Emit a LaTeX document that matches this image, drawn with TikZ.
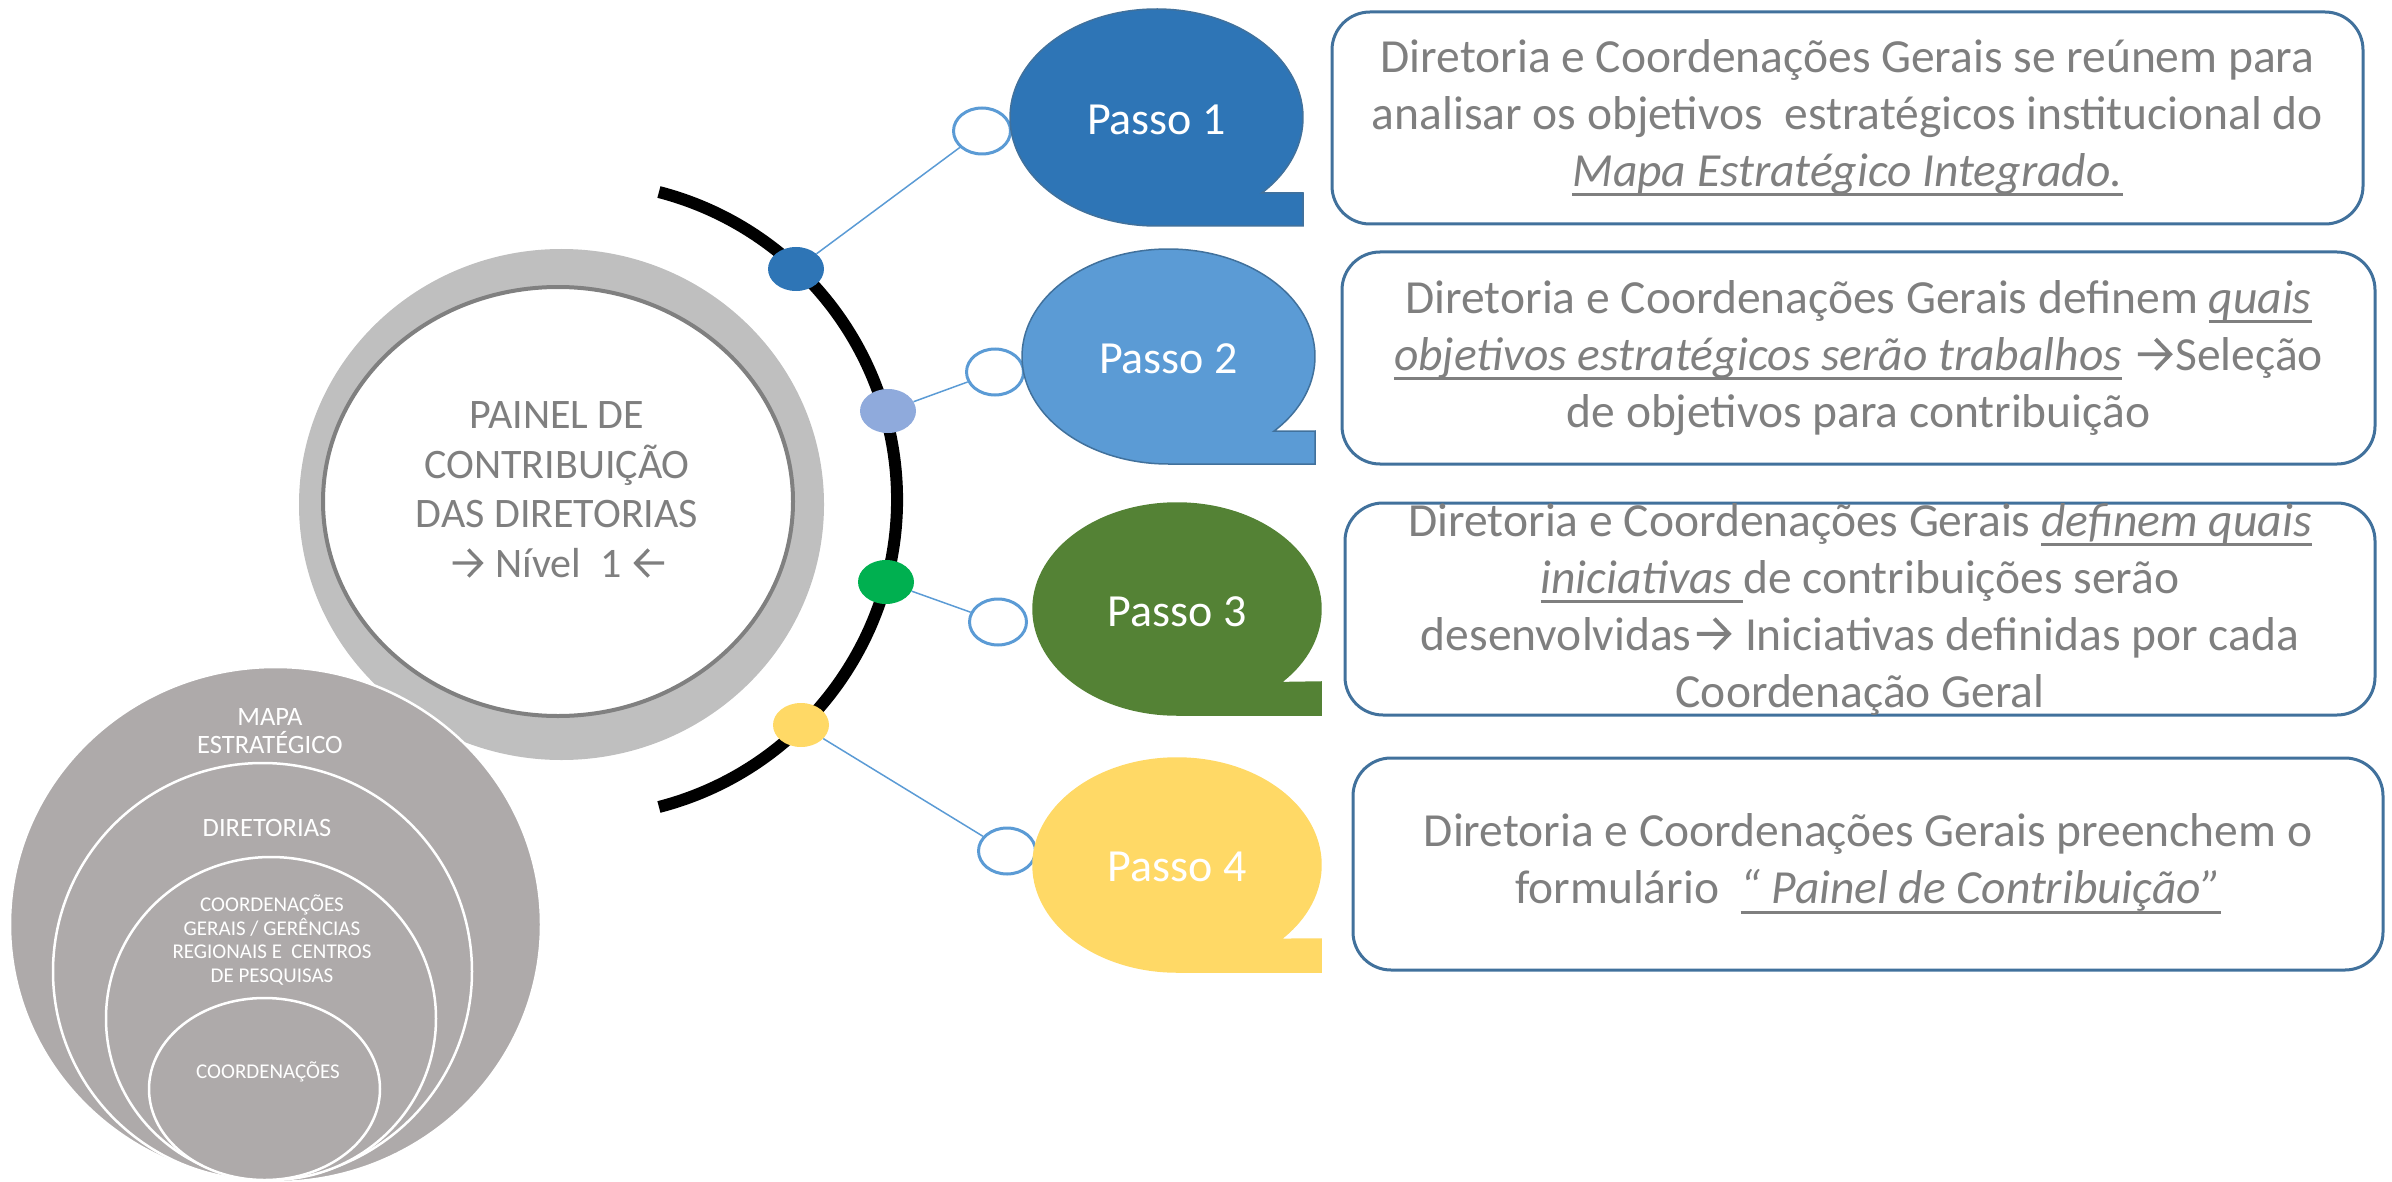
\documentclass[tikz,border=0pt]{standalone}
\usepackage{fontspec}
\setmainfont{Carlito}
\usetikzlibrary{shapes.geometric}
\definecolor{txtgray}{HTML}{7F7F7F}
\definecolor{boxblue}{HTML}{41719C}
\definecolor{linkblue}{HTML}{5B9BD5}
\definecolor{pone}{HTML}{2E75B6}
\definecolor{ptwo}{HTML}{5B9BD5}
\definecolor{pthree}{HTML}{548235}
\definecolor{pfour}{HTML}{FFD966}
\definecolor{dtwo}{HTML}{8FAADC}
\definecolor{dthree}{HTML}{00B050}
\definecolor{mapagray}{HTML}{AEAAAA}
\definecolor{ringgray}{HTML}{BFBFBF}
\definecolor{ringline}{HTML}{808080}
\newsavebox\ulbox
\newcommand\myul[1]{\sbox\ulbox{#1}\rlap{\rule[-10pt]{\wd\ulbox}{3pt}}\usebox\ulbox}
\newcommand\rarr{\hspace{0.07em}\tikz[x=1em,y=1em,baseline=0pt,sharp corners]\draw[draw=txtgray,line width=0.08em,line join=miter,sharp corners]
  (0,0.34)--(0.68,0.34) (0.37,0.66)--(0.68,0.34)--(0.37,0.02);\hspace{0.07em}}
\newcommand\larr{\hspace{0.07em}\tikz[x=1em,y=1em,baseline=0pt,sharp corners]\draw[draw=txtgray,line width=0.08em,line join=miter,sharp corners]
  (0.68,0.34)--(0,0.34) (0.31,0.66)--(0,0.34)--(0.31,0.02);\hspace{0.07em}}
\newcommand\passobubble[6]{%
  \filldraw[fill=#5, draw=#6, line width=1.5] (#1,#2) ++(44:#3 and #4)
    arc[start angle=44, end angle=-270, x radius=#3, y radius=#4]
    -- ++(#3,0) -- ++(0,-33) -- cycle;}
\begin{document}
\begin{tikzpicture}[x=1pt, y=-1pt,
  boxst/.style={draw=boxblue, line width=3, rounded corners=38, fill=white, text=txtgray,
    align=center, font=\fontsize{47.5}{57}\selectfont, inner sep=0},
  dotst/.style={ellipse, minimum width=56, minimum height=44, inner sep=0},
  smallc/.style={ellipse, draw=linkblue, line width=3, fill=white, minimum width=57, minimum height=46, inner sep=0},
  conn/.style={draw=linkblue, line width=1.5},
  passo/.style={text=white, font=\fontsize{46}{55}\selectfont, inner sep=0},
  mapac/.style={ellipse, fill=mapagray, draw=white, line width=2.5, inner sep=0},
  mapatxt/.style={text=white, align=center, inner sep=0}]
\useasboundingbox (0,0) rectangle (2392,1182);

% central ring
\node[ellipse, fill=ringgray, minimum width=525, minimum height=511, inner sep=0] (ringout) at (561.5,504.5) {};
\node[ellipse, fill=white, draw=ringline, line width=4, minimum width=470, minimum height=429, inner sep=0] (ringin) at (558,501.5) {};
\node[text=txtgray, align=center, inner sep=0, font=\fontsize{42}{49.5}\selectfont] (painel) at (557,490)
  {PAINEL DE\\CONTRIBUIÇÃO\\DAS DIRETORIAS\\\rarr{} Nível~ 1 \larr};

% nested circles
\node[mapac, minimum width=531, minimum height=515] (m1) at (275.5,924.5) {};
\node[mapac, minimum width=419, minimum height=417] (m2) at (262.5,971.5) {};
\node[mapac, minimum width=330, minimum height=323] (m3) at (271,1018.5) {};
\node[mapac, minimum width=231, minimum height=182] (m4) at (264.5,1089) {};
\node[mapatxt, font=\fontsize{26.5}{28.5}\selectfont] (t1) at (270,731) {MAPA\\ESTRATÉGICO};
\node[mapatxt, font=\fontsize{26.5}{28.5}\selectfont] (t2) at (267,828) {DIRETORIAS};
\node[mapatxt, font=\fontsize{21}{23.5}\selectfont] (t3) at (272,940) {COORDENAÇÕES\\GERAIS / GERÊNCIAS\\REGIONAIS E~ CENTROS\\DE PESQUISAS};
\node[mapatxt, font=\fontsize{21}{23.5}\selectfont] (t4) at (268,1072) {COORDENAÇÕES};

% black arc
\draw[line width=12] (579.4,499.5) ++(75.5:317.6) arc[start angle=75.5, end angle=-75.5, radius=317.6];

% small circles and connectors
\node[smallc] (c1) at (982,131) {};
\node[smallc] (c2) at (995,372) {};
\node[smallc] (c3) at (998,622) {};
\node[smallc] (c4) at (1007,851) {};
\node[dotst, fill=pone] (d1) at (796,269) {};
\node[dotst, fill=dtwo] (d2) at (888,411) {};
\node[dotst, fill=dthree] (d3) at (886,582) {};
\node[dotst, fill=pfour] (d4) at (801,725) {};
\draw[conn] (d1) -- (c1);
\draw[conn] (d2) -- (c2);
\draw[conn] (d3) -- (c3);
\draw[conn] (d4) -- (c4);

% bubbles
\passobubble{1156.5}{117.5}{146.5}{108.5}{pone}{boxblue}
\passobubble{1168.5}{356.5}{146.5}{107.5}{ptwo}{boxblue}
\passobubble{1177}{609}{144}{106}{pthree}{pthree}
\passobubble{1177}{865}{144}{107}{pfour}{pfour}
\node[passo] (p1) at (1156.5,120) {Passo 1};
\node[passo] (p2) at (1168.5,359) {Passo 2};
\node[passo] (p3) at (1177,612) {Passo 3};
\node[passo] (p4) at (1177,867) {Passo 4};

% text boxes
\node[boxst, minimum width=1031, minimum height=212] (b1) at (1847.5,118)
  {Diretoria e Coordenações Gerais se reúnem para\\analisar os objetivos~ estratégicos institucional do\\\myul{\itshape Mapa Estratégico Integrado.}};
\node[boxst, minimum width=1033, minimum height=212] (b2) at (1858.5,358)
  {Diretoria e Coordenações Gerais definem \myul{\itshape quais}\\\myul{\itshape objetivos estratégicos serão trabalhos} \rarr{}Seleção\\de objetivos para contribuição};
\node[boxst, minimum width=1030, minimum height=212] (b3) at (1860,609)
  {Diretoria e Coordenações Gerais \myul{\itshape definem quais}\\\myul{\itshape iniciativas }de contribuições serão\\desenvolvidas\rarr{} Iniciativas definidas por cada\\Coordenação Geral};
\node[boxst, minimum width=1030, minimum height=212] (b4) at (1868,864)
  {Diretoria e Coordenações Gerais preenchem o\\formulário~ \myul{\itshape “ Painel de Contribuição”}};
\end{tikzpicture}
\end{document}
